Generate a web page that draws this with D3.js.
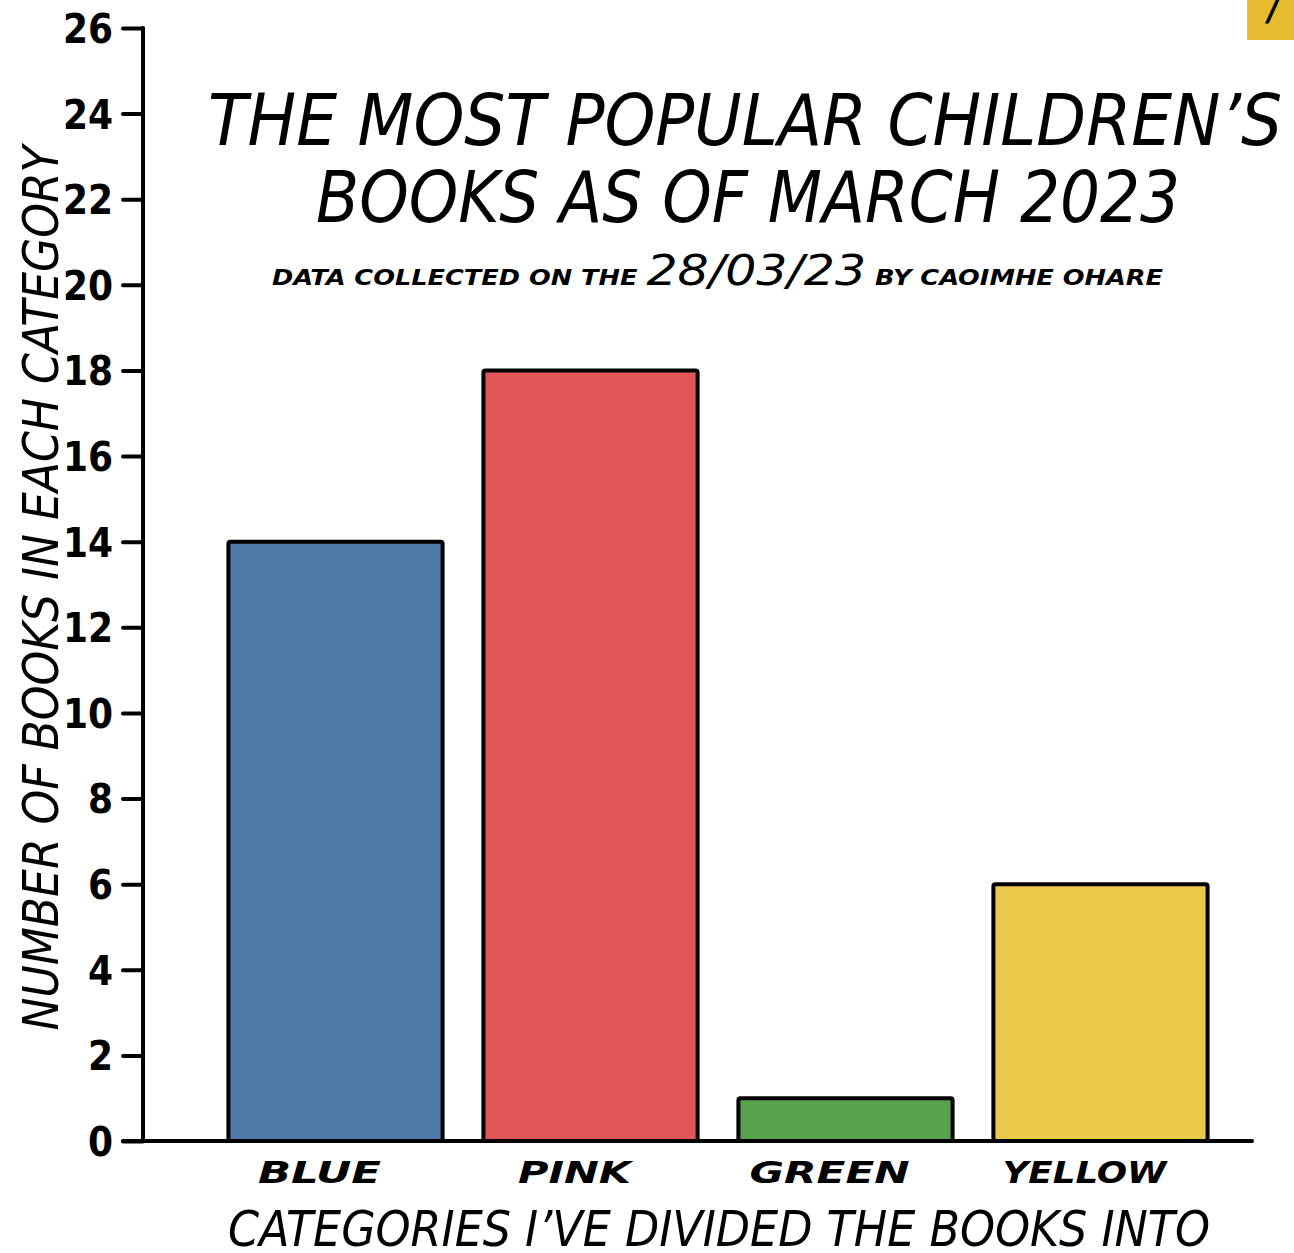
<!DOCTYPE html>
<html><head><meta charset="utf-8">
<script src="https://cdn.jsdelivr.net/npm/d3@7"></script>
<style>
html,body{margin:0;padding:0;background:#fff;}
text{font-family:"DejaVu Sans Condensed","DejaVu Sans",sans-serif;fill:#000;}
</style></head>
<body>
<svg id="c" width="1294" height="1253"></svg>
<script>
const categories = ["BLUE", "PINK", "GREEN", "YELLOW"];
const values = [14, 18, 1, 6];
const barColors = ["#4E79A7", "#E15759", "#59A14F", "#EAC84A"];
const yTicks = [0, 2, 4, 6, 8, 10, 12, 14, 16, 18, 20, 22, 24, 26];
const titleLines = ["THE MOST POPULAR CHILDREN\u2019S", "BOOKS AS OF MARCH 2023"];
const subtitleParts = ["DATA COLLECTED ON THE ", "28/03/23", " BY CAOIMHE OHARE"];
const yLabel = "NUMBER OF BOOKS IN EACH CATEGORY";
const xLabel = "CATEGORIES I\u2019VE DIVIDED THE BOOKS INTO";

const svg = d3.select("#c");
const y = d3.scaleLinear().domain([0, 26]).range([1141, 28]);
const x = d3.scaleBand().domain(categories).range([208, 1228]).paddingInner(0.16).paddingOuter(0.08);

// corner tag
svg.append("rect").attr("x", 1247).attr("y", 0).attr("width", 47).attr("height", 40).attr("fill", "#E6BC2F");
svg.append("text").attr("x", 1274).attr("y", 20).attr("text-anchor", "middle")
  .style("font-size", "36px").style("font-style", "italic").style("font-weight", "bold").text("/");

// bars
svg.selectAll("rect.bar").data(values).join("rect").attr("class", "bar")
  .attr("x", (d, i) => x(categories[i]))
  .attr("width", x.bandwidth())
  .attr("y", d => y(d))
  .attr("height", d => y(0) - y(d))
  .attr("rx", 2)
  .attr("fill", (d, i) => barColors[i])
  .attr("stroke", "#000").attr("stroke-width", 4).attr("stroke-linejoin", "round");

// y axis
const yAxis = d3.axisLeft(y).tickValues(yTicks).tickSize(20).tickPadding(10).tickFormat(d3.format("d"));
const ga = svg.append("g").attr("transform", "translate(143,0)").call(yAxis);
ga.select(".domain").remove();
ga.selectAll(".tick line").attr("stroke", "#000").attr("stroke-width", 4).attr("stroke-linecap", "round");
ga.selectAll(".tick text").attr("fill", "#000").style("font-size", "40px").style("font-weight", "bold")
  .attr("dy", "0.36em").attr("font-family", null);
svg.append("line").attr("x1", 143).attr("x2", 143).attr("y1", y(26)).attr("y2", y(0))
  .attr("stroke", "#000").attr("stroke-width", 4).attr("stroke-linecap", "round");
// x axis baseline
svg.append("line").attr("x1", 123).attr("x2", 1252).attr("y1", y(0)).attr("y2", y(0))
  .attr("stroke", "#000").attr("stroke-width", 4).attr("stroke-linecap", "round");

// category labels
const catWidths = [123, 113, 160, 164];
svg.selectAll("text.cat").data(categories).join("text").attr("class", "cat")
  .attr("x", d => x(d) + x.bandwidth() / 2 - 16)
  .attr("y", 1183)
  .attr("text-anchor", "middle")
  .attr("textLength", (d, i) => catWidths[i]).attr("lengthAdjust", "spacingAndGlyphs")
  .style("font-size", "30px").style("font-weight", "bold").style("font-style", "italic")
  .text(d => d);

// titles
const titleW = [1074, 864];
svg.selectAll("text.title").data(titleLines).join("text").attr("class", "title")
  .attr("x", (d, i) => i === 0 ? 745 : 748).attr("y", (d, i) => 145 + i * 77)
  .attr("text-anchor", "middle")
  .attr("textLength", (d, i) => titleW[i]).attr("lengthAdjust", "spacingAndGlyphs")
  .style("font-size", "72px").style("font-style", "italic").style("font-weight", "300")
  .text(d => d);

// subtitle
const sub = svg.append("text").attr("x", 272).attr("y", 285)
  .attr("textLength", 891).attr("lengthAdjust", "spacingAndGlyphs")
  .style("font-style", "italic").style("font-weight", "bold");
sub.append("tspan").style("font-size", "22px").text(subtitleParts[0]);
sub.append("tspan").style("font-size", "42px").style("font-weight", "normal").text(subtitleParts[1]);
sub.append("tspan").style("font-size", "22px").text(subtitleParts[2]);

// y label
svg.append("text").attr("transform", "translate(58,588) rotate(-90)")
  .attr("text-anchor", "middle")
  .attr("textLength", 885).attr("lengthAdjust", "spacingAndGlyphs")
  .style("font-size", "50px").style("font-style", "italic").style("font-weight", "300")
  .text(yLabel);

// x label
svg.append("text").attr("x", 719).attr("y", 1246).attr("text-anchor", "middle")
  .attr("textLength", 982).attr("lengthAdjust", "spacingAndGlyphs")
  .style("font-size", "50px").style("font-style", "italic").style("font-weight", "300")
  .text(xLabel);
</script>
</body></html>
